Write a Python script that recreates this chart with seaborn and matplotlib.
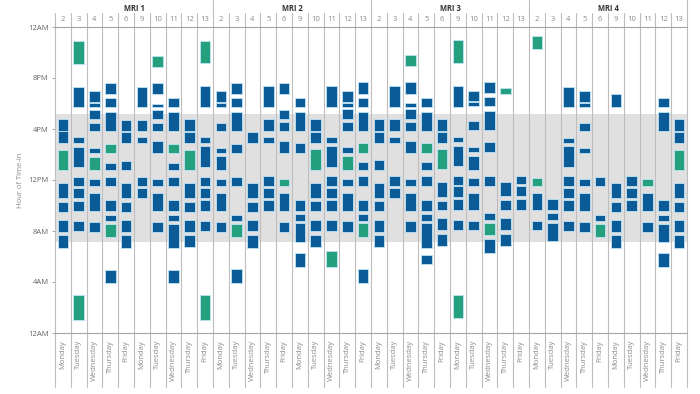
import pandas as pd
import matplotlib
matplotlib.use('Agg')
import matplotlib.pyplot as plt
import seaborn as sns
import numpy as np

day_nums = [2, 3, 4, 5, 6, 9, 10, 11, 12, 13]
day_names = ['Monday', 'Tuesday', 'Wednesday', 'Thursday', 'Friday'] * 2
mri_names = ['MRI 1', 'MRI 2', 'MRI 3', 'MRI 4']
hour_ticks = [0, 4, 8, 12, 16, 20, 24]
hour_labels = ['12AM', '4AM', '8AM', '12PM', '4PM', '8PM', '12AM']
work_hours = (7.15, 17.15)

# (start hour, end hour, kind) for each day; b = blue, t = teal
mri1 = {
    2: [(15.85, 16.75, 'b'), (14.9, 15.85, 'b'), (12.75, 14.35, 't'), (10.6, 11.75, 'b'), (9.5, 10.3, 'b'), (7.95, 8.85, 'b'), (6.7, 7.65, 'b')],
    3: [(21.1, 22.9, 't'), (17.7, 19.3, 'b'), (14.9, 15.35, 'b'), (13.05, 14.6, 'b'), (11.5, 12.25, 'b'), (10.6, 11.4, 'b'), (9.55, 10.35, 'b'), (8.0, 8.8, 'b'), (1.05, 2.95, 't')],
    4: [(18.15, 18.95, 'b'), (17.7, 18.05, 'b'), (16.75, 17.5, 'b'), (15.85, 16.5, 'b'), (14.15, 14.5, 'b'), (12.75, 13.8, 't'), (11.5, 12.05, 'b'), (9.55, 10.95, 'b'), (7.95, 8.7, 'b')],
    5: [(18.75, 19.6, 'b'), (17.7, 18.4, 'b'), (15.85, 17.3, 'b'), (14.15, 14.8, 't'), (12.75, 13.35, 'b'), (11.5, 12.25, 'b'), (9.55, 10.4, 'b'), (8.75, 9.25, 'b'), (7.55, 8.55, 't'), (3.9, 4.95, 'b')],
    6: [(15.85, 16.7, 'b'), (14.9, 15.8, 'b'), (12.75, 13.5, 'b'), (10.6, 11.75, 'b'), (9.5, 10.3, 'b'), (7.95, 8.85, 'b'), (6.7, 7.65, 'b')],
    9: [(17.7, 19.3, 'b'), (15.85, 16.7, 'b'), (14.9, 15.35, 'b'), (11.5, 12.25, 'b'), (10.6, 11.4, 'b')],
    10: [(20.9, 21.75, 't'), (18.75, 19.6, 'b'), (17.7, 18.0, 'b'), (16.75, 17.5, 'b'), (15.85, 16.5, 'b'), (14.15, 15.05, 'b'), (11.5, 12.05, 'b'), (9.55, 10.95, 'b'), (7.95, 8.7, 'b')],
    11: [(17.7, 18.4, 'b'), (15.85, 17.3, 'b'), (14.15, 14.8, 't'), (12.75, 13.35, 'b'), (11.5, 12.25, 'b'), (9.55, 10.4, 'b'), (8.75, 9.25, 'b'), (6.65, 8.55, 'b'), (3.9, 4.95, 'b')],
    12: [(15.85, 16.75, 'b'), (14.9, 15.8, 'b'), (12.75, 14.35, 't'), (10.6, 11.75, 'b'), (9.5, 10.3, 'b'), (7.95, 8.85, 'b'), (6.75, 7.7, 'b')],
    13: [(21.15, 22.9, 't'), (17.7, 19.35, 'b'), (14.9, 15.35, 'b'), (13.05, 14.65, 'b'), (11.5, 12.25, 'b'), (10.6, 11.4, 'b'), (9.55, 10.45, 'b'), (8.0, 8.8, 'b'), (1.05, 2.95, 't')],
}
mri2 = {
    2: [(18.15, 18.95, 'b'), (17.7, 18.05, 'b'), (15.85, 16.5, 'b'), (14.15, 14.5, 'b'), (12.75, 13.85, 'b'), (11.5, 12.05, 'b'), (9.55, 10.95, 'b'), (7.95, 8.7, 'b')],
    3: [(18.75, 19.6, 'b'), (17.7, 18.4, 'b'), (15.85, 17.3, 'b'), (14.15, 14.8, 'b'), (11.5, 12.25, 'b'), (8.75, 9.25, 'b'), (7.55, 8.55, 't'), (3.9, 5.0, 'b')],
    4: [(14.9, 15.8, 'b'), (10.6, 11.75, 'b'), (9.5, 10.3, 'b'), (8.0, 8.9, 'b'), (6.7, 7.7, 'b')],
    5: [(17.7, 19.35, 'b'), (15.85, 16.75, 'b'), (14.9, 15.4, 'b'), (11.5, 12.3, 'b'), (10.6, 11.4, 'b'), (9.55, 10.45, 'b')],
    6: [(18.75, 19.6, 'b'), (16.75, 17.5, 'b'), (15.85, 16.55, 'b'), (14.15, 15.05, 'b'), (11.5, 12.05, 't'), (9.6, 10.95, 'b'), (7.95, 8.7, 'b')],
    9: [(17.7, 18.4, 'b'), (15.85, 17.35, 'b'), (14.15, 14.9, 'b'), (9.55, 10.45, 'b'), (8.75, 9.3, 'b'), (7.1, 8.6, 'b'), (5.2, 6.3, 'b')],
    10: [(15.85, 16.75, 'b'), (14.9, 15.8, 'b'), (12.8, 14.4, 't'), (10.6, 11.8, 'b'), (9.55, 10.35, 'b'), (8.0, 8.9, 'b'), (6.75, 7.7, 'b')],
    11: [(17.7, 19.35, 'b'), (14.9, 15.4, 'b'), (13.05, 14.7, 'b'), (11.5, 12.3, 'b'), (10.6, 11.4, 'b'), (9.55, 10.45, 'b'), (8.0, 8.85, 'b'), (5.2, 6.45, 't')],
    12: [(18.15, 19.0, 'b'), (17.7, 18.05, 'b'), (16.75, 17.55, 'b'), (15.85, 16.55, 'b'), (14.15, 14.55, 'b'), (12.75, 13.85, 't'), (11.5, 12.1, 'b'), (9.6, 11.0, 'b'), (7.95, 8.75, 'b')],
    13: [(18.75, 19.65, 'b'), (17.75, 18.45, 'b'), (15.85, 17.35, 'b'), (14.15, 14.9, 't'), (12.75, 13.4, 'b'), (11.5, 12.3, 'b'), (9.6, 10.45, 'b'), (8.8, 9.3, 'b'), (7.55, 8.6, 't'), (3.9, 5.05, 'b')],
}
mri3 = {
    2: [(15.85, 16.8, 'b'), (14.9, 15.8, 'b'), (12.75, 13.55, 'b'), (10.6, 11.8, 'b'), (9.55, 10.35, 'b'), (7.95, 8.9, 'b'), (6.75, 7.7, 'b')],
    3: [(17.7, 19.35, 'b'), (15.85, 16.75, 'b'), (14.9, 15.4, 'b'), (11.5, 12.3, 'b'), (10.6, 11.4, 'b')],
    4: [(20.95, 21.8, 't'), (18.75, 19.65, 'b'), (17.7, 18.05, 'b'), (16.75, 17.55, 'b'), (15.85, 16.55, 'b'), (14.15, 15.05, 'b'), (11.5, 12.1, 'b'), (9.6, 11.0, 'b'), (7.95, 8.75, 'b')],
    5: [(17.75, 18.45, 'b'), (15.85, 17.35, 'b'), (14.15, 14.9, 't'), (12.75, 13.4, 'b'), (11.5, 12.3, 'b'), (9.6, 10.45, 'b'), (8.8, 9.3, 'b'), (6.7, 8.6, 'b'), (5.45, 6.1, 'b')],
    6: [(15.85, 16.8, 'b'), (14.9, 15.8, 'b'), (12.85, 14.45, 't'), (10.7, 11.85, 'b'), (9.65, 10.35, 'b'), (8.05, 9.0, 'b'), (6.8, 7.75, 'b')],
    9: [(21.2, 23.0, 't'), (17.75, 19.4, 'b'), (14.95, 15.4, 'b'), (13.1, 14.7, 'b'), (11.6, 12.35, 'b'), (10.7, 11.5, 'b'), (9.65, 10.5, 'b'), (8.05, 8.85, 'b'), (1.15, 3.0, 't')],
    10: [(18.2, 19.0, 'b'), (17.8, 18.1, 'b'), (15.9, 16.6, 'b'), (14.2, 14.55, 'b'), (12.8, 13.9, 'b'), (11.55, 12.15, 'b'), (9.65, 11.0, 'b'), (8.05, 8.8, 'b')],
    11: [(18.85, 19.7, 'b'), (17.8, 18.5, 'b'), (15.9, 17.4, 'b'), (14.2, 14.95, 'b'), (11.55, 12.35, 'b'), (8.85, 9.4, 'b'), (7.7, 8.65, 't'), (6.25, 7.35, 'b')],
    12: [(18.75, 19.25, 't'), (10.75, 11.85, 'b'), (9.65, 10.4, 'b'), (8.05, 9.0, 'b'), (6.8, 7.75, 'b')],
    13: [(11.65, 12.35, 'b'), (10.75, 11.55, 'b'), (9.65, 10.5, 'b')],
}
mri4 = {
    2: [(22.25, 23.3, 't'), (11.55, 12.15, 't'), (9.65, 11.0, 'b'), (8.05, 8.8, 'b')],
    3: [(9.65, 10.5, 'b'), (8.85, 9.4, 'b'), (7.2, 8.65, 'b')],
    4: [(17.7, 19.3, 'b'), (14.9, 15.3, 'b'), (13.05, 14.65, 'b'), (11.5, 12.3, 'b'), (10.6, 11.4, 'b'), (9.55, 10.45, 'b'), (8.0, 8.8, 'b')],
    5: [(18.15, 18.95, 'b'), (17.7, 18.05, 'b'), (15.85, 16.5, 'b'), (14.15, 14.5, 'b'), (11.5, 12.05, 'b'), (9.55, 10.95, 'b'), (7.95, 8.7, 'b')],
    6: [(11.5, 12.25, 'b'), (8.75, 9.25, 'b'), (7.55, 8.55, 't')],
    9: [(17.7, 18.75, 'b'), (10.6, 11.75, 'b'), (9.5, 10.3, 'b'), (7.95, 8.9, 'b'), (6.7, 7.7, 'b')],
    10: [(11.5, 12.3, 'b'), (10.6, 11.4, 'b'), (9.55, 10.45, 'b')],
    11: [(11.5, 12.05, 't'), (9.55, 10.95, 'b'), (7.95, 8.7, 'b')],
    12: [(17.7, 18.4, 'b'), (15.85, 17.3, 'b'), (9.55, 10.4, 'b'), (8.75, 9.25, 'b'), (7.1, 8.55, 'b'), (5.2, 6.25, 'b')],
    13: [(15.85, 16.75, 'b'), (14.9, 15.8, 'b'), (12.75, 14.35, 't'), (10.6, 11.75, 'b'), (9.5, 10.3, 'b'), (7.95, 8.85, 'b'), (6.7, 7.65, 'b')],
}

colors = {'b': '#0b5c96', 't': '#25a07f'}

sns.set_style('white')
plt.rcParams['font.family'] = ['Open Sans', 'DejaVu Sans']

col_order = [m + '|' + str(d) for m in mri_names for d in day_nums]
rows = []
for m, blocks in zip(mri_names, [mri1, mri2, mri3, mri4]):
    for d in day_nums:
        for k, (s, e, kind) in enumerate(blocks.get(d, [])):
            rows.append({'col': m + '|' + str(d), 'start': s, 'dur': e - s, 'kind': kind, 'layer': k})
df = pd.DataFrame(rows)
df['pos'] = df['col'].map({c: i for i, c in enumerate(col_order)})

fig = plt.figure(figsize=(7, 3.94), dpi=100)
ax = fig.add_axes([55 / 700, 61 / 394, 632 / 700, 306 / 394])

# working hours band
ax.axhspan(*work_hours, color='#e0e0e0', lw=0, zorder=0)

# one barplot per stacking layer and colour, bars float on their start hour
for (layer, kind), sub in df.groupby(['layer', 'kind']):
    sub = sub.sort_values('pos')
    sns.barplot(data=sub, x='col', y='dur', order=col_order, bottom=sub['start'].to_numpy(),
                color=colors[kind], saturation=1, width=0.68, errorbar=None, ax=ax,
                edgecolor='#bfe3f6', linewidth=0.6, zorder=3)

ax.set_xlim(-0.5, len(col_order) - 0.5)
ax.set_ylim(0, 24)

# column separators
for i in range(len(col_order) + 1):
    top = 1.088 if (i % 10 == 0 and i > 0) else 1.046
    ax.axvline(i - 0.5, ymin=-0.176, ymax=top, color='#bdbdbd', lw=0.8, clip_on=False, zorder=1)

ax.set_xticks(range(len(col_order)))
ax.set_xticklabels(day_names * 4, rotation=90, fontsize=5.5, color='#8a8a8a')
ax.tick_params(axis='x', length=0, pad=5)
ax.set_xlabel('')

ax.set_yticks(hour_ticks)
ax.set_yticklabels(hour_labels, fontsize=5.5, color='#666666')
ax.tick_params(axis='y', length=2.5, width=0.6, color='#999999', pad=2, left=True)
ax.set_ylabel('Hour of Time-in', fontsize=5.5, color='#8a8a8a', labelpad=3)

for side in ['left', 'right']:
    ax.spines[side].set_visible(False)
for side in ['top', 'bottom']:
    ax.spines[side].set_color('#a5a5a5')
    ax.spines[side].set_linewidth(0.8)

sec = ax.secondary_xaxis('top')
sec.set_xticks(range(len(col_order)), labels=[str(d) for d in day_nums] * 4)
sec.tick_params(length=0, pad=3, labelsize=5.5, labelcolor='#8a8a8a')
sec.spines['top'].set_visible(False)

for g, m in enumerate(mri_names):
    ax.text(g * 10 + 4.5, 1.062, m, transform=ax.get_xaxis_transform(), ha='center', va='center',
            fontsize=5.5, fontweight='bold', color='#333333')

fig.savefig('out.png', dpi=100)
